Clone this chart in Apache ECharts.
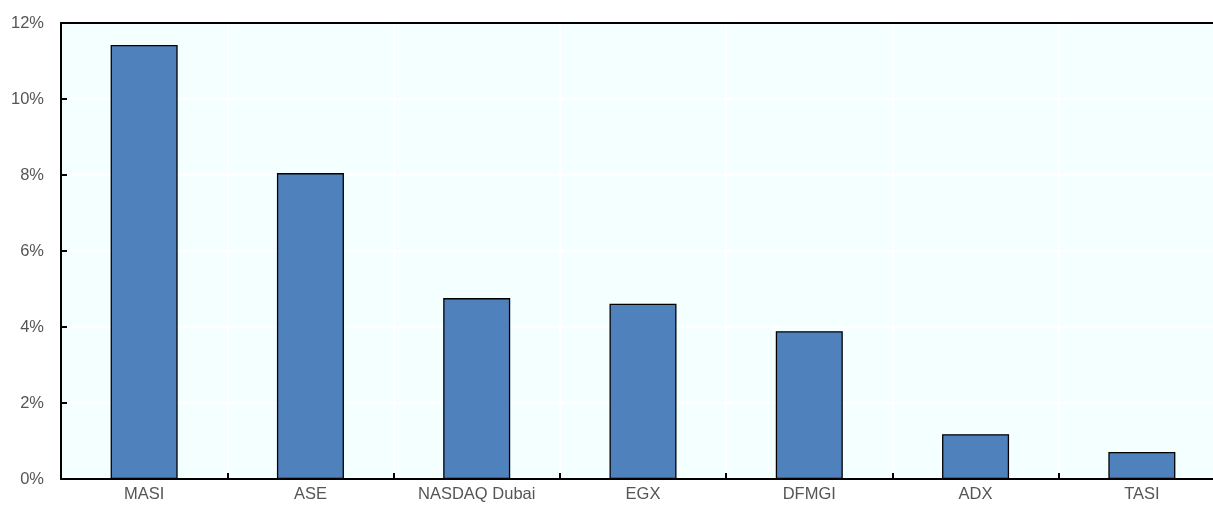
<!DOCTYPE html>
<html>
<head>
<meta charset="utf-8">
<script src="https://cdn.jsdelivr.net/npm/echarts@6/dist/echarts.min.js"></script>
<style>
  html, body { margin: 0; padding: 0; background: #ffffff; overflow: hidden; }
  /* the plot runs slightly past the right edge of the window */
  #chart { width: 1225px; height: 505px; }
</style>
</head>
<body>
<div id="chart"></div>
<script>
// Market indices and their values (%)
const categories = ['MASI', 'ASE', 'NASDAQ Dubai', 'EGX', 'DFMGI', 'ADX', 'TASI'];
const values = [11.42, 8.05, 4.76, 4.61, 3.89, 1.18, 0.71];

const chart = echarts.init(document.getElementById('chart'));
const labelStyle = { color: '#555555', fontFamily: 'Liberation Sans, Arial, sans-serif', fontSize: 16.5 };
const whiteGrid = { show: true, lineStyle: { color: '#ffffff', width: 2 } };
const hidden = { axisLine: { show: false }, axisTick: { show: false }, axisLabel: { show: false } };

chart.setOption({
  animation: false,
  backgroundColor: '#ffffff',
  grid: {
    left: 61, right: 0, top: 23, bottom: 26,
    show: true, backgroundColor: '#F4FFFF', borderWidth: 0
  },
  xAxis: [{
    // bottom axis: line, inward ticks at category boundaries, labels
    type: 'category',
    data: categories,
    position: 'bottom',
    axisLine: { onZero: false, lineStyle: { color: '#000000', width: 2 } },
    axisTick: { show: true, inside: true, length: 6, lineStyle: { color: '#000000', width: 2 } },
    axisLabel: Object.assign({ margin: 7 }, labelStyle),
    splitLine: { show: false },
    z: 3
  }, {
    // top frame line plus white vertical grid lines
    type: 'category',
    data: categories,
    position: 'top',
    axisLine: { show: true, onZero: false, lineStyle: { color: '#000000', width: 2 } },
    axisTick: { show: false },
    axisLabel: { show: false },
    splitLine: whiteGrid,
    z: 3
  }],
  yAxis: [{
    type: 'value',
    min: 0, max: 12, interval: 2,
    position: 'left',
    axisLine: { show: true, onZero: false, lineStyle: { color: '#000000', width: 2 } },
    axisTick: { show: true, inside: true, length: 6, lineStyle: { color: '#000000', width: 2 } },
    axisLabel: Object.assign({ margin: 17, formatter: '{value}%' }, labelStyle),
    splitLine: { show: false },
    z: 3
  }, Object.assign({
    // white horizontal grid lines behind the bars
    type: 'value',
    min: 0, max: 12, interval: 2,
    position: 'right',
    splitLine: whiteGrid,
    z: 0
  }, hidden)],
  series: [{
    type: 'bar',
    xAxisIndex: 0,
    yAxisIndex: 0,
    data: values,
    barWidth: '40.3%',
    z: 4,
    itemStyle: { color: '#4F81BD', borderColor: '#000000', borderWidth: 1.3 }
  }]
});
</script>
</body>
</html>
